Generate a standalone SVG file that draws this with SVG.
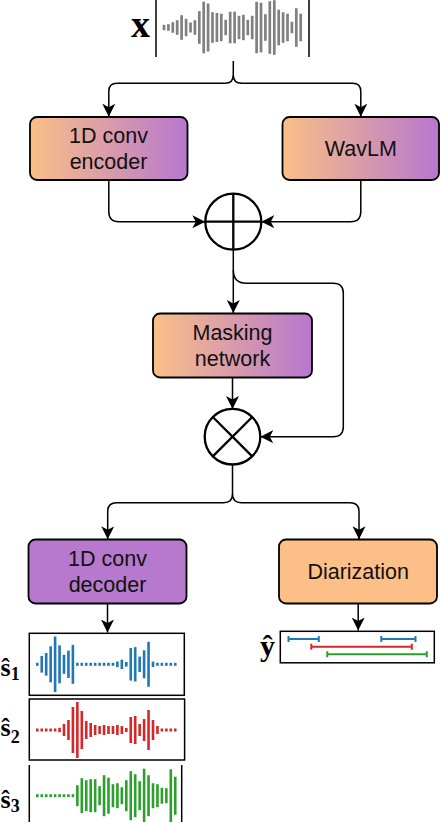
<svg xmlns="http://www.w3.org/2000/svg" width="442" height="822" viewBox="0 0 442 822">
<defs>
<linearGradient id="g" x1="0" y1="0" x2="1" y2="0">
<stop offset="0" stop-color="#FAC086"/>
<stop offset="1" stop-color="#B777D0"/>
</linearGradient>
<marker id="a" markerUnits="userSpaceOnUse" markerWidth="14" markerHeight="14" refX="13" refY="6.5" orient="auto" viewBox="0 0 14 14">
<path d="M0,0 L13,6.5 L0,13 L3.5,6.5 Z" fill="#000"/>
</marker>
</defs>
<style>
.box{stroke:#000;stroke-width:1.8}
.lbl{font-family:"Liberation Sans",Arial,sans-serif;font-size:21.5px;fill:#111;text-anchor:middle}
.math{font-family:"Liberation Serif","Times New Roman",serif;font-weight:bold;fill:#000}
.c{fill:none;stroke:#000;stroke-width:1.5}
.op{fill:#fff;stroke:#000;stroke-width:2.3}
.fr{fill:none;stroke:#000;stroke-width:1.5}
.gw rect{fill:#808080}
.w1 rect{fill:#1F77B4}
.w2 rect{fill:#D62728}
.w3 rect{fill:#2CA02C}
</style>

<g id="input">
<text class="math" x="140.5" y="36.7" font-size="38" text-anchor="middle">x</text>
<line class="fr" x1="156" y1="0" x2="156" y2="57"/>
<line class="fr" x1="309" y1="0" x2="309" y2="57"/>
<g class="gw" transform="translate(0,27.5)">
<rect x="162.65" y="-2.7" width="2.7" height="5.4"/>
<rect x="167.05" y="-3.3" width="2.7" height="6.6"/>
<rect x="171.45" y="-5.3" width="2.7" height="10.6"/>
<rect x="175.85" y="-7.3" width="2.7" height="14.6"/>
<rect x="180.25" y="-12.3" width="2.7" height="24.6"/>
<rect x="184.75" y="-8.7" width="2.7" height="17.4"/>
<rect x="189.15" y="-5" width="2.7" height="10"/>
<rect x="193.55" y="-7.3" width="2.7" height="14.6"/>
<rect x="197.95" y="-16.3" width="2.7" height="32.6"/>
<rect x="202.35" y="-25.8" width="2.7" height="51.6"/>
<rect x="206.75" y="-24" width="2.7" height="48"/>
<rect x="211.15" y="-15.3" width="2.7" height="30.6"/>
<rect x="215.55" y="-14.5" width="2.7" height="29"/>
<rect x="219.95" y="-13.8" width="2.7" height="27.6"/>
<rect x="224.35" y="-7.7" width="2.7" height="15.4"/>
<rect x="228.85" y="-15.8" width="2.7" height="31.6"/>
<rect x="233.25" y="-15.8" width="2.7" height="31.6"/>
<rect x="237.65" y="-11.7" width="2.7" height="23.4"/>
<rect x="242.05" y="-12.7" width="2.7" height="25.4"/>
<rect x="246.45" y="-7.7" width="2.7" height="15.4"/>
<rect x="250.85" y="-11.7" width="2.7" height="23.4"/>
<rect x="255.25" y="-25.7" width="2.7" height="51.4"/>
<rect x="259.65" y="-24.8" width="2.7" height="49.6"/>
<rect x="264.05" y="-13.3" width="2.7" height="26.6"/>
<rect x="268.45" y="-26.3" width="2.7" height="52.6"/>
<rect x="272.95" y="-27.3" width="2.7" height="54.6"/>
<rect x="277.35" y="-17.8" width="2.7" height="35.6"/>
<rect x="281.75" y="-15.3" width="2.7" height="30.6"/>
<rect x="286.15" y="-13.8" width="2.7" height="27.6"/>
<rect x="290.55" y="-5.7" width="2.7" height="11.4"/>
<rect x="294.95" y="-19.3" width="2.7" height="38.6"/>
<rect x="299.35" y="-13.8" width="2.7" height="27.6"/>
</g>
</g>

<g id="encoder">
<rect class="box" x="30" y="117" width="157.5" height="63" rx="7" fill="url(#g)"/>
<text class="lbl" x="108.5" y="143">1D conv</text>
<text class="lbl" x="108.5" y="169">encoder</text>
</g>

<g id="wavlm">
<rect class="box" x="282.5" y="117" width="156.5" height="63" rx="7" fill="url(#g)"/>
<text class="lbl" x="360.8" y="156">WavLM</text>
</g>

<g id="sum">
<circle class="op" cx="233.3" cy="221.7" r="28"/>
<line x1="205.3" y1="221.7" x2="261.3" y2="221.7" stroke="#000" stroke-width="2.3"/>
<line x1="233.3" y1="193.7" x2="233.3" y2="249.7" stroke="#000" stroke-width="2.3"/>
</g>

<g id="masking">
<rect class="box" x="153" y="313.5" width="159" height="64" rx="7" fill="url(#g)"/>
<text class="lbl" x="232.5" y="340">Masking</text>
<text class="lbl" x="232.5" y="366">network</text>
</g>

<g id="multiply">
<circle class="op" cx="232.5" cy="436.7" r="27.8"/>
<line x1="212.8" y1="417" x2="252.2" y2="456.4" stroke="#000" stroke-width="2.3"/>
<line x1="252.2" y1="417" x2="212.8" y2="456.4" stroke="#000" stroke-width="2.3"/>
</g>

<g id="decoder">
<rect class="box" x="28.5" y="539.5" width="158" height="64" rx="7" fill="#B779CD"/>
<text class="lbl" x="107.5" y="565.5">1D conv</text>
<text class="lbl" x="107.5" y="591.5">decoder</text>
</g>

<g id="diarization">
<rect class="box" x="279" y="539.5" width="158" height="64" rx="7" fill="#FCBF87"/>
<text class="lbl" x="358.2" y="578.5">Diarization</text>
</g>

<g id="s1">
<text class="math" x="0.5" y="675.7" font-size="26">ŝ<tspan font-size="18" dy="4.3">1</tspan></text>
<rect class="fr" x="29.3" y="633.3" width="155" height="62"/>
<g class="w1" transform="translate(0,664.3)">
<rect x="36" y="-1.5" width="2.6" height="3"/>
<rect x="40.45" y="-8.3" width="2.6" height="16.6"/>
<rect x="44.9" y="-11.3" width="2.6" height="22.6"/>
<rect x="49.35" y="-18" width="2.6" height="36"/>
<rect x="53.8" y="-27.8" width="2.6" height="55.6"/>
<rect x="58.25" y="-19" width="2.6" height="38"/>
<rect x="62.7" y="-9.5" width="2.6" height="19"/>
<rect x="67.15" y="-13.7" width="2.6" height="27.4"/>
<rect x="71.6" y="-19.5" width="2.6" height="39"/>
<rect x="76.05" y="-1.5" width="2.6" height="3"/>
<rect x="80.5" y="-1.5" width="2.6" height="3"/>
<rect x="84.95" y="-1.5" width="2.6" height="3"/>
<rect x="89.4" y="-1.5" width="2.6" height="3"/>
<rect x="93.85" y="-1.5" width="2.6" height="3"/>
<rect x="98.3" y="-1.5" width="2.6" height="3"/>
<rect x="102.75" y="-1.5" width="2.6" height="3"/>
<rect x="107.2" y="-1.5" width="2.6" height="3"/>
<rect x="111.65" y="-1.5" width="2.6" height="3"/>
<rect x="116.1" y="-2.8" width="2.6" height="5.6"/>
<rect x="120.55" y="-4.7" width="2.6" height="9.4"/>
<rect x="125" y="-2.3" width="2.6" height="4.6"/>
<rect x="129.45" y="-16.3" width="2.6" height="32.6"/>
<rect x="133.9" y="-17.2" width="2.6" height="34.4"/>
<rect x="138.35" y="-7.7" width="2.6" height="15.4"/>
<rect x="142.8" y="-14" width="2.6" height="28"/>
<rect x="147.25" y="-22.5" width="2.6" height="45"/>
<rect x="151.7" y="-2.7" width="2.6" height="5.4"/>
<rect x="156.15" y="-1.5" width="2.6" height="3"/>
<rect x="160.6" y="-1.5" width="2.6" height="3"/>
<rect x="165.05" y="-1.5" width="2.6" height="3"/>
<rect x="169.5" y="-1.5" width="2.6" height="3"/>
<rect x="173.95" y="-1.5" width="2.6" height="3"/>
</g>
</g>

<g id="s2">
<text class="math" x="0.5" y="736" font-size="26">ŝ<tspan font-size="18" dy="6.7">2</tspan></text>
<rect class="fr" x="29.3" y="699" width="155.3" height="61"/>
<g class="w2" transform="translate(0,730)">
<rect x="36" y="-1.5" width="2.6" height="3"/>
<rect x="40.45" y="-1.5" width="2.6" height="3"/>
<rect x="44.9" y="-1.5" width="2.6" height="3"/>
<rect x="49.35" y="-1.5" width="2.6" height="3"/>
<rect x="53.8" y="-1.5" width="2.6" height="3"/>
<rect x="58.25" y="-2.2" width="2.6" height="4.4"/>
<rect x="62.7" y="-6" width="2.6" height="12"/>
<rect x="67.15" y="-10" width="2.6" height="20"/>
<rect x="71.6" y="-23" width="2.6" height="46"/>
<rect x="76.05" y="-28" width="2.6" height="56"/>
<rect x="80.5" y="-19" width="2.6" height="38"/>
<rect x="84.95" y="-9" width="2.6" height="18"/>
<rect x="89.4" y="-7" width="2.6" height="14"/>
<rect x="93.85" y="-5" width="2.6" height="10"/>
<rect x="98.3" y="-4" width="2.6" height="8"/>
<rect x="102.75" y="-5" width="2.6" height="10"/>
<rect x="107.2" y="-4" width="2.6" height="8"/>
<rect x="111.65" y="-4" width="2.6" height="8"/>
<rect x="116.1" y="-5" width="2.6" height="10"/>
<rect x="120.55" y="-4" width="2.6" height="8"/>
<rect x="125" y="-2" width="2.6" height="4"/>
<rect x="129.45" y="-13" width="2.6" height="26"/>
<rect x="133.9" y="-14" width="2.6" height="28"/>
<rect x="138.35" y="-6" width="2.6" height="12"/>
<rect x="142.8" y="-11" width="2.6" height="22"/>
<rect x="147.25" y="-20" width="2.6" height="40"/>
<rect x="151.7" y="-10" width="2.6" height="20"/>
<rect x="156.15" y="-4" width="2.6" height="8"/>
<rect x="160.6" y="-1.5" width="2.6" height="3"/>
<rect x="165.05" y="-1.5" width="2.6" height="3"/>
<rect x="169.5" y="-1.5" width="2.6" height="3"/>
<rect x="173.95" y="-1.5" width="2.6" height="3"/>
</g>
</g>

<g id="s3">
<text class="math" x="0.5" y="808.3" font-size="26">ŝ<tspan font-size="18" dy="3.4">3</tspan></text>
<line class="fr" x1="29.3" y1="765" x2="29.3" y2="822"/>
<line class="fr" x1="181.7" y1="765" x2="181.7" y2="822"/>
<g class="w3" transform="translate(0,795.7)">
<rect x="36" y="-1.5" width="2.6" height="3"/>
<rect x="40.45" y="-1.5" width="2.6" height="3"/>
<rect x="44.9" y="-1.5" width="2.6" height="3"/>
<rect x="49.35" y="-1.5" width="2.6" height="3"/>
<rect x="53.8" y="-1.5" width="2.6" height="3"/>
<rect x="58.25" y="-1.5" width="2.6" height="3"/>
<rect x="62.7" y="-1.5" width="2.6" height="3"/>
<rect x="67.15" y="-1.5" width="2.6" height="3"/>
<rect x="71.6" y="-1.5" width="2.6" height="3"/>
<rect x="76.05" y="-10.5" width="2.6" height="21"/>
<rect x="80.5" y="-17.5" width="2.6" height="35"/>
<rect x="84.95" y="-15.5" width="2.6" height="31"/>
<rect x="89.4" y="-16.5" width="2.6" height="33"/>
<rect x="93.85" y="-16.5" width="2.6" height="33"/>
<rect x="98.3" y="-9.5" width="2.6" height="19"/>
<rect x="102.75" y="-20.5" width="2.6" height="41"/>
<rect x="107.2" y="-18" width="2.6" height="36"/>
<rect x="111.65" y="-11.5" width="2.6" height="23"/>
<rect x="116.1" y="-12.5" width="2.6" height="25"/>
<rect x="120.55" y="-8.5" width="2.6" height="17"/>
<rect x="125" y="-15.5" width="2.6" height="31"/>
<rect x="129.45" y="-24.5" width="2.6" height="49"/>
<rect x="133.9" y="-21.5" width="2.6" height="43"/>
<rect x="138.35" y="-14.5" width="2.6" height="29"/>
<rect x="142.8" y="-27" width="2.6" height="54"/>
<rect x="147.25" y="-20.5" width="2.6" height="41"/>
<rect x="151.7" y="-12.5" width="2.6" height="25"/>
<rect x="156.15" y="-11.5" width="2.6" height="23"/>
<rect x="160.6" y="-8" width="2.6" height="16"/>
<rect x="165.05" y="-7.5" width="2.6" height="15"/>
<rect x="169.5" y="-26.5" width="2.6" height="53"/>
<rect x="173.95" y="-19" width="2.6" height="38"/>
</g>
</g>

<g id="yhat">
<text class="math" x="267.5" y="655.5" font-size="30" text-anchor="middle">ŷ</text>
<rect class="fr" x="280.3" y="631.3" width="154" height="31.5"/>
<g stroke-width="2" fill="none">
<path d="M288.5,639 H318.8 M288.5,636 V642 M318.8,636 V642" stroke="#1F77B4"/>
<path d="M381.3,639 H415.5 M381.3,636 V642 M415.5,636 V642" stroke="#1F77B4"/>
<path d="M311.3,646.7 H411.8 M311.3,643.7 V649.7 M411.8,643.7 V649.7" stroke="#D62728"/>
<path d="M327.3,654.3 H426.8 M327.3,651.3 V657.3 M426.8,651.3 V657.3" stroke="#2CA02C"/>
</g>
</g>

<g id="connectors">
<path class="c" d="M233.3,61 V75 Q233.3,83.3 225,83.3 H117 Q108.8,83.3 108.8,91.5 V116.7" marker-end="url(#a)"/>
<path class="c" d="M233.3,75 Q233.3,83.3 241.6,83.3 H352.5 Q360.8,83.3 360.8,91.5 V116.7" marker-end="url(#a)"/>
<path class="c" d="M108.8,180 V211.7 Q108.8,221.7 118.8,221.7 H205.3" marker-end="url(#a)"/>
<path class="c" d="M360.8,180 V211.7 Q360.8,221.7 350.8,221.7 H261.3" marker-end="url(#a)"/>
<path class="c" d="M233.3,250 V313" marker-end="url(#a)"/>
<path class="c" d="M233.3,270 Q233.3,283.3 246.6,283.3 H333.3 Q343.3,283.3 343.3,293.3 V426.7 Q343.3,436.7 333.3,436.7 H260.3" marker-end="url(#a)"/>
<path class="c" d="M232.5,377.7 V409" marker-end="url(#a)"/>
<path class="c" d="M232.5,464.5 V494 Q232.5,502.7 223.8,502.7 H116.5 Q107.7,502.7 107.7,511.5 V539.3" marker-end="url(#a)"/>
<path class="c" d="M232.5,494 Q232.5,502.7 241.2,502.7 H350.3 Q359,502.7 359,511.5 V539.3" marker-end="url(#a)"/>
<path class="c" d="M107.5,603.5 V632.5" marker-end="url(#a)"/>
<path class="c" d="M358.2,603.5 V630.5" marker-end="url(#a)"/>
</g>
</svg>
